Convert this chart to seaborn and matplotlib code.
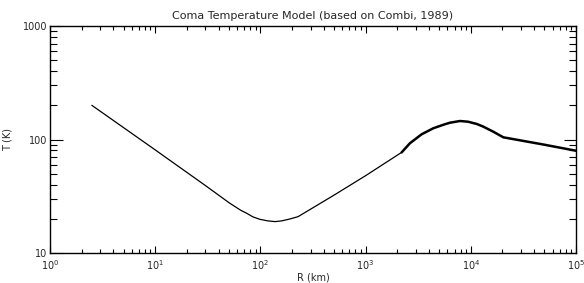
import numpy as np
import pandas as pd
import seaborn as sns
import matplotlib.pyplot as plt
from matplotlib.ticker import LogLocator, FixedLocator, NullFormatter

# radius (km) and temperature (K)
inner_r = [2.5, 10, 30, 51, 65, 74, 85, 99, 117, 138, 160, 191, 228, 500, 1000, 2200]
inner_t = [200, 81, 39.3, 27.5, 23.8, 22.4, 20.8, 19.8, 19.2, 18.9, 19.2, 19.95, 20.9, 32.3, 48.0, 77.0]

outer_r = [2200, 2640, 3400, 4400, 5500, 6340, 7900, 9400, 11400, 13100, 16400, 20400, 50000, 100000]
outer_t = [77.0, 92.7, 111, 125.6, 135, 140.6, 145.5, 143.5, 137, 130, 117, 104.5, 90, 79.6]

inner = pd.DataFrame({"R": inner_r, "T": inner_t})
outer = pd.DataFrame({"R": outer_r, "T": outer_t})

sns.set_style("ticks")
plt.rcParams['font.family'] = ['DejaVu Sans']

fig = plt.figure(figsize=(5.84, 2.83), dpi=100)
ax = fig.add_axes([50 / 584, 1 - 253 / 283, 526 / 584, 227 / 283])

sns.lineplot(data=inner, x="R", y="T", ax=ax, color="black", lw=0.9,
             sort=False, estimator=None)
sns.lineplot(data=outer, x="R", y="T", ax=ax, color="black", lw=1.8,
             sort=False, estimator=None)

ax.set_xscale("log")
ax.set_yscale("log")
ax.set_xlim(1, 1e5)
ax.set_ylim(10, 1000)

ax.yaxis.set_major_locator(FixedLocator([10, 100, 1000]))
ax.set_yticklabels(["10", "100", "1000"])
ax.yaxis.set_minor_locator(LogLocator(base=10, subs=np.arange(2, 10)))
ax.yaxis.set_minor_formatter(NullFormatter())
ax.xaxis.set_major_locator(LogLocator(base=10, numticks=10))
ax.xaxis.set_minor_locator(LogLocator(base=10, subs=np.arange(2, 10), numticks=10))
ax.xaxis.set_minor_formatter(NullFormatter())

ax.tick_params(axis="both", which="both", direction="in", top=True, right=True,
               labelsize=7, width=0.8, color="black")
ax.tick_params(axis="x", which="major", length=5, pad=4)
ax.tick_params(axis="x", which="minor", length=3)
ax.tick_params(axis="y", which="major", length=9, pad=2)
ax.tick_params(axis="y", which="minor", length=5)

for s in ax.spines.values():
    s.set_linewidth(1.0)
    s.set_color("black")

ax.set_title("Coma Temperature Model (based on Combi, 1989)", fontsize=8, pad=5)
ax.set_xlabel("R (km)", fontsize=7)
ax.set_ylabel("T (K)", fontsize=7)
ax.xaxis.set_label_coords(0.5, -0.085)
ax.yaxis.set_label_coords(-0.072, 0.5)

fig.savefig("out.png", dpi=100)
